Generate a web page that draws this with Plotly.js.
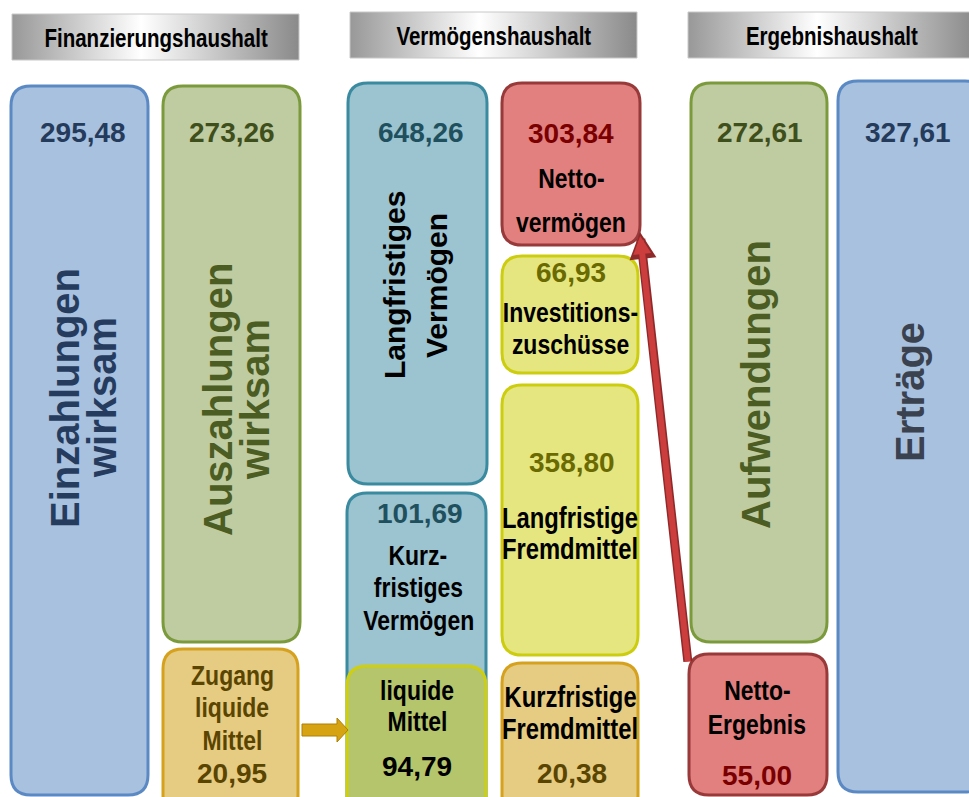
<!DOCTYPE html>
<html><head><meta charset="utf-8">
<script src="https://cdn.plot.ly/plotly-3.0.1.min.js"></script>
<style>html,body{margin:0;padding:0;background:#fff}#chart{width:969px;height:797px}</style>
</head><body><div id="chart"></div>
<script>
// ---------- DATA ----------
const headers = ["Finanzierungshaushalt", "Vermögenshaushalt", "Ergebnishaushalt"];
const categories = ["Einzahlungen wirksam", "Auszahlungen wirksam", "Zugang liquide Mittel",
  "Langfristiges Vermögen", "Kurzfristiges Vermögen", "liquide Mittel",
  "Nettovermögen", "Investitionszuschüsse", "Langfristige Fremdmittel", "Kurzfristige Fremdmittel",
  "Aufwendungen", "Netto-Ergebnis", "Erträge"];
const values = [295.48, 273.26, 20.95, 648.26, 101.69, 94.79, 303.84, 66.93, 358.80, 20.38, 272.61, 55.00, 327.61];
const labelLines = [
  ["Einzahlungen", "wirksam"],
  ["Auszahlungen", "wirksam"],
  ["Zugang", "liquide", "Mittel"],
  ["Langfristiges", "Vermögen"],
  ["Kurz-", "fristiges", "Vermögen"],
  ["liquide", "Mittel"],
  ["Netto-", "vermögen"],
  ["Investitions-", "zuschüsse"],
  ["Langfristige", "Fremdmittel"],
  ["Kurzfristige", "Fremdmittel"],
  ["Aufwendungen"],
  ["Netto-", "Ergebnis"],
  ["Erträge"]
];

// ---------- LAYOUT / STYLE ----------
const WIDE = "Liberation Sans, Arial, sans-serif";
const NARROW_FACTOR = 0.82;   // emulate an "Arial Narrow" face by compressing glyphs
const palette = {
  blue:   {fill: '#A8C1DF', line: '#5A89C4', val: '#243B5C', lab: '#263C5E'},
  green:  {fill: '#BFCBA1', line: '#7A9A3C', val: '#3F4F1C', lab: '#4B5D22'},
  gold:   {fill: '#E6CB82', line: '#D6A11C', val: '#5A4500', lab: '#5A4500'},
  teal:   {fill: '#9CC3D0', line: '#3A8AA0', val: '#20505E', lab: '#000000'},
  red:    {fill: '#E27F7F', line: '#98393A', val: '#7A0000', lab: '#000000'},
  yellow: {fill: '#E5E680', line: '#CDCD10', val: '#6A6A00', lab: '#000000'},
  lime:   {fill: '#B4C56B', line: '#CFCF10', val: '#000000', lab: '#000000'}
};
const geo = [
  {box: [11, 148, 86, 795],  pal: 'blue',   val: [83, 132],  rot: true, lines: [[65, 398], [102, 398]], size: 40},
  {box: [163, 300, 86, 642], pal: 'green',  val: [232, 132], rot: true, lines: [[218, 400], [255, 400]], size: 40},
  {box: [163, 298, 649, 815], pal: 'gold',  val: [232, 773], lines: [[232, 675], [232, 707], [232, 740]], size: 28},
  {box: [348, 487, 83, 484], pal: 'teal',   val: [421, 132], rot: true, lines: [[394, 285], [436, 286]], size: 30, lab: '#000000'},
  {box: [347, 486, 493, 820], pal: 'teal',  val: [420, 513], lines: [[418, 555], [418, 587], [418, 620]], size: 28},
  {box: [347, 486, 666, 815], pal: 'lime',  val: [417, 766], lines: [[417, 690], [417, 721]], size: 28},
  {box: [502, 640, 83, 245], pal: 'red',    val: [571, 133], lines: [[571, 178], [571, 222]], size: 28},
  {box: [502, 638, 256, 373], pal: 'yellow', val: [571, 272], lines: [[570, 312], [570, 344]], size: 28},
  {box: [502, 638, 385, 655], pal: 'yellow', val: [572, 462], lines: [[570, 518], [570, 549]], size: 29},
  {box: [502, 638, 663, 815], pal: 'gold',  val: [572, 773], lines: [[570, 697], [570, 729]], size: 29, lab: '#000000'},
  {box: [691, 827, 83, 642], pal: 'green',  val: [760, 132], rot: true, lines: [[756, 385]], size: 40},
  {box: [689, 827, 654, 795], pal: 'red',   val: [757, 775], lines: [[757, 690], [757, 724]], size: 28},
  {box: [838, 985, 81, 792], pal: 'blue',   val: [908, 132], rot: true, lines: [[910, 392]], size: 40, lab: '#3A4250'}
];
const headerGeo = [
  {box: [12, 299, 14, 60], text: [156, 38]},
  {box: [350, 637, 12, 58], text: [494, 36]},
  {box: [688, 975, 12, 58], text: [832, 36]}
];

function rr(x0, x1, y0, y1, r) {
  return `M${x0 + r},${y0} L${x1 - r},${y0} Q${x1},${y0} ${x1},${y0 + r} L${x1},${y1 - r} Q${x1},${y1} ${x1 - r},${y1} ` +
         `L${x0 + r},${y1} Q${x0},${y1} ${x0},${y1 - r} L${x0},${y0 + r} Q${x0},${y0} ${x0 + r},${y0} Z`;
}
const fmt = v => v.toFixed(2).replace('.', ',');

const shapes = [];
const annotations = [];
const traces = [];
const narrowIdx = [];

headerGeo.forEach((h, i) => {
  const [x0, x1, y0, y1] = h.box;
  traces.push({
    type: 'scatter', mode: 'lines', x: [x0, x1, x1, x0, x0], y: [y0, y0, y1, y1, y0],
    fill: 'toself', line: {width: 1, color: '#c8c8c8'},
    fillgradient: {type: 'horizontal', colorscale: [[0, '#989898'], [0.45, '#ffffff'], [1, '#8a8a8a']]},
    hoverinfo: 'skip', showlegend: false
  });
  narrowIdx.push(annotations.length);
  annotations.push({x: h.text[0], y: h.text[1], xref: 'x', yref: 'y', text: headers[i], showarrow: false,
    font: {family: WIDE, size: 25, color: '#000', weight: 'bold'}, xanchor: 'center', yanchor: 'middle'});
});

geo.forEach((g, i) => {
  const p = palette[g.pal];
  const [x0, x1, y0, y1] = g.box;
  shapes.push({type: 'path', xref: 'x', yref: 'y', path: rr(x0, x1, y0, y1, 20),
    fillcolor: p.fill, line: {color: p.line, width: 3}, layer: 'below'});
  annotations.push({x: g.val[0], y: g.val[1], xref: 'x', yref: 'y', text: fmt(values[i]), showarrow: false,
    font: {family: WIDE, size: 28, color: p.val, weight: 'bold'}, xanchor: 'center', yanchor: 'middle'});
  labelLines[i].forEach((t, k) => {
    const pos = g.lines[k];
    if (!g.rot) narrowIdx.push(annotations.length);
    annotations.push({x: pos[0], y: pos[1], xref: 'x', yref: 'y', text: t, showarrow: false,
      textangle: g.rot ? -90 : 0,
      font: {family: WIDE, size: g.size, color: g.lab || p.lab, weight: 'bold'},
      xanchor: 'center', yanchor: 'middle'});
  });
});

// gold arrow (Zugang -> liquide Mittel)
shapes.push({type: 'path', xref: 'x', yref: 'y',
  path: 'M302,724 L337,724 L337,718 L348,730 L337,742 L337,736 L302,736 Z',
  fillcolor: '#D6A312', line: {color: '#B08000', width: 1}});

// red arrow (Netto-Ergebnis -> Nettovermögen): dark outline + red body
annotations.push({x: 640, y: 232, ax: 688, ay: 663, xref: 'x', yref: 'y', axref: 'x', ayref: 'y',
  text: '', showarrow: true, arrowhead: 2, arrowsize: 0.6, arrowwidth: 9, arrowcolor: '#8E2A2A', standoff: 0});
annotations.push({x: 640, y: 234, ax: 688, ay: 663, xref: 'x', yref: 'y', axref: 'x', ayref: 'y',
  text: '', showarrow: true, arrowhead: 2, arrowsize: 0.6, arrowwidth: 6, arrowcolor: '#CC3D3D', standoff: 2});

const layout = {
  width: 969, height: 797, margin: {l: 0, r: 0, t: 0, b: 0},
  paper_bgcolor: '#ffffff', plot_bgcolor: '#ffffff',
  xaxis: {range: [0, 969], visible: false, fixedrange: true},
  yaxis: {range: [797, 0], visible: false, fixedrange: true},
  shapes: shapes, annotations: annotations, showlegend: false
};
Plotly.newPlot('chart', traces, layout, {displayModeBar: false, staticPlot: true}).then(gd => {
  narrowIdx.forEach(i => {
    const t = gd.querySelector(`.annotation[data-index="${i}"] text.annotation-text`);
    if (!t) return;
    const w = t.getComputedTextLength();
    t.setAttribute('textLength', (w * NARROW_FACTOR).toFixed(1));
    t.setAttribute('lengthAdjust', 'spacingAndGlyphs');
  });
});
</script>
</body></html>
